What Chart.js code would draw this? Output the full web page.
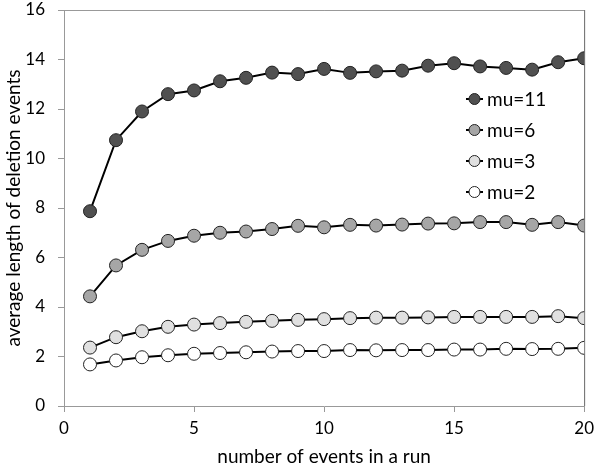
<!DOCTYPE html>
<html>
<head>
<meta charset="utf-8">
<script src="https://cdn.jsdelivr.net/npm/chart.js@4.4.0/dist/chart.umd.min.js"></script>
<style>
  html, body { margin: 0; padding: 0; background: #fff; }
  #wrap { width: 600px; height: 470px; }
</style>
</head>
<body>
<div id="wrap"><canvas id="chart"></canvas></div>
<script>
// values
const runs = [1, 2, 3, 4, 5, 6, 7, 8, 9, 10, 11, 12, 13, 14, 15, 16, 17, 18, 19, 20];
const mu11 = [7.87, 10.74, 11.9, 12.6, 12.75, 13.12, 13.26, 13.47, 13.41, 13.62, 13.46, 13.52, 13.55, 13.75, 13.85, 13.72, 13.66, 13.59, 13.89, 14.05];
const mu6 = [4.43, 5.68, 6.31, 6.67, 6.88, 7.0, 7.05, 7.15, 7.28, 7.22, 7.32, 7.29, 7.33, 7.37, 7.38, 7.43, 7.43, 7.32, 7.43, 7.29];
const mu3 = [2.36, 2.78, 3.02, 3.2, 3.29, 3.35, 3.4, 3.44, 3.48, 3.51, 3.55, 3.57, 3.57, 3.58, 3.6, 3.6, 3.6, 3.6, 3.63, 3.55];
const mu2 = [1.68, 1.84, 1.97, 2.05, 2.11, 2.14, 2.17, 2.2, 2.22, 2.22, 2.26, 2.25, 2.26, 2.26, 2.28, 2.28, 2.31, 2.3, 2.31, 2.35];
const seriesNames = ['mu=11', 'mu=6', 'mu=3', 'mu=2'];
const fills = ['#505050', '#a6a6a6', '#e0e0e0', '#ffffff'];

const FONT = 'Lato, "Open Sans", sans-serif';

function pts(vals) {
  return runs.map((r, i) => ({ x: r, y: vals[i] }));
}

function makeSet(label, vals, fill) {
  return {
    label: label,
    data: pts(vals),
    borderColor: '#000',
    borderWidth: 2,
    backgroundColor: fill,
    pointBackgroundColor: fill,
    pointBorderColor: '#222',
    pointBorderWidth: 1,
    pointRadius: 6.5,
    pointHoverRadius: 6.5,
    tension: 0
  };
}

// box round the plot area
const frame = {
  id: 'frame',
  beforeDatasetsDraw(chart) {
    const { ctx, chartArea: a } = chart;
    ctx.save();
    ctx.lineWidth = 1;
    ctx.strokeStyle = '#999';
    ctx.beginPath();
    ctx.moveTo(a.left, a.top + 0.5);
    ctx.lineTo(a.right, a.top + 0.5);
    ctx.stroke();
    ctx.strokeStyle = '#666';
    ctx.beginPath();
    ctx.moveTo(a.right + 0.5, a.top);
    ctx.lineTo(a.right + 0.5, a.bottom);
    ctx.stroke();
    ctx.restore();
  }
};

// legend drawn inside the plot, line-with-marker like the original
const innerLegend = {
  id: 'innerLegend',
  afterDraw(chart) {
    const { ctx } = chart;
    const x0 = 466, y0 = 99, gap = 31;
    ctx.save();
    chart.data.datasets.forEach((ds, i) => {
      const y = y0 + i * gap;
      ctx.strokeStyle = '#000';
      ctx.lineWidth = 2;
      ctx.beginPath();
      ctx.moveTo(x0, y);
      ctx.lineTo(x0 + 17, y);
      ctx.stroke();
      ctx.beginPath();
      ctx.arc(x0 + 8.5, y, 5.5, 0, Math.PI * 2);
      ctx.fillStyle = ds.pointBackgroundColor;
      ctx.fill();
      ctx.lineWidth = 1;
      ctx.strokeStyle = '#222';
      ctx.stroke();
      ctx.fillStyle = '#000';
      ctx.font = '19px ' + FONT;
      ctx.textBaseline = 'middle';
      ctx.fillText(ds.label, x0 + 21, y + 1);
    });
    ctx.restore();
  }
};

new Chart(document.getElementById('chart'), {
  type: 'line',
  data: {
    datasets: [
      makeSet(seriesNames[0], mu11, fills[0]),
      makeSet(seriesNames[1], mu6, fills[1]),
      makeSet(seriesNames[2], mu3, fills[2]),
      makeSet(seriesNames[3], mu2, fills[3])
    ]
  },
  options: {
    responsive: true,
    maintainAspectRatio: false,
    animation: false,
    layout: { padding: { top: 2, right: 15, left: 0, bottom: 0 } },
    plugins: {
      legend: { display: false },
      tooltip: { enabled: false }
    },
    scales: {
      x: {
        type: 'linear',
        min: 0,
        max: 20,
        afterFit: (s) => { s.height = 64; },
        ticks: { stepSize: 5, color: '#000', font: { family: FONT, size: 17 }, padding: 6 },
        grid: { drawOnChartArea: false, color: '#999', tickLength: 6 },
        border: { color: '#999' },
        title: { display: true, text: 'number of events in a run', color: '#000', font: { family: FONT, size: 19 }, padding: { top: 0, bottom: 2 } }
      },
      y: {
        min: 0,
        max: 16,
        afterFit: (s) => { s.width = 64; s.paddingTop = 10; s.paddingBottom = 0; },
        ticks: { stepSize: 2, color: '#000', font: { family: FONT, size: 17 }, padding: 13 },
        grid: { drawOnChartArea: false, color: '#999', tickLength: 6 },
        border: { color: '#999' },
        title: { display: true, text: 'average length of deletion events', color: '#000', font: { family: FONT, size: 19 }, padding: { top: 2, bottom: 0 } }
      }
    }
  },
  plugins: [frame, innerLegend]
});
</script>
</body>
</html>
